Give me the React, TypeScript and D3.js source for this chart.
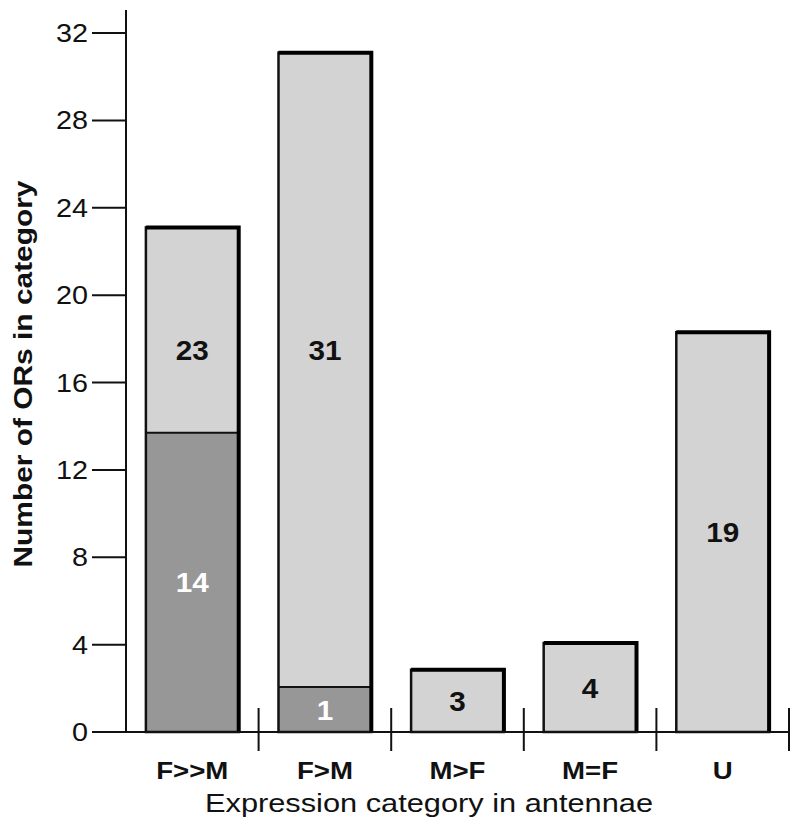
import React from 'react'
import * as d3 from 'd3'

// categories along the x axis
const categories = ['F>>M', 'F>M', 'M>F', 'M=F', 'U']
// bar heights (whole bar, light part on top)
const totalHeights = [23.1, 31.1, 2.85, 4.07, 18.3]
// dark lower part of the bar (0 = none)
const darkHeights = [13.7, 2.06, 0, 0, 0]
// numbers printed in the bars
const totalLabels = ['23', '31', '3', '4', '19']
const darkLabels = ['14', '1', '', '', '']
const yTicks = [0, 4, 8, 12, 16, 20, 24, 28, 32]

const W = 800
const H = 834
const font = '"Liberation Sans", Arial, sans-serif'
// the original figure is a bit stretched sideways
const sx = 1.15

const App = () => {
  const x = d3.scaleBand<string>().domain(categories).range([126, 789]).padding(0)
  const y = d3.scaleLinear().domain([0, 32]).range([732, 33])
  const barW = x.bandwidth() * 0.7

  const rows = categories.map((c, i) => ({
    c,
    total: totalHeights[i],
    dark: darkHeights[i],
    tLabel: totalLabels[i],
    dLabel: darkLabels[i],
  }))

  // labels in the light part of the stacked bars share one height
  const stacked = rows.filter((d) => d.dark > 0)
  const stackedLabelY = d3.mean(stacked, (d) => (y(d.total) + y(d.dark)) / 2) as number

  return (
    <svg width={W} height={H} style={{ display: 'block', margin: '-8px', background: '#fff' }}>
      {/* bars */}
      {rows.map((d) => {
        const x0 = (x(d.c) as number) + (x.bandwidth() - barW) / 2
        const cx = x0 + barW / 2
        const top = y(d.total)
        const darkTop = y(d.dark)
        const lightY = d.dark > 0 ? stackedLabelY : (top + y(0)) / 2
        return (
          <g key={d.c}>
            <rect x={x0} y={top} width={barW} height={y(0) - top} fill="#d3d3d3" />
            {d.dark > 0 && (
              <rect x={x0} y={darkTop} width={barW} height={y(0) - darkTop} fill="#979797" />
            )}
            {d.dark > 0 && (
              <line x1={x0} x2={x0 + barW} y1={darkTop} y2={darkTop} stroke="#111" strokeWidth={2} />
            )}
            <rect x={x0} y={top} width={barW} height={y(0) - top} fill="none" stroke="#111" strokeWidth={2.5} />
            {/* thicker top and right edges */}
            <path
              d={`M${x0},${top} H${x0 + barW} V${y(0)}`}
              fill="none"
              stroke="#000"
              strokeWidth={4}
            />
            <text
              transform={`translate(${cx},${lightY}) scale(1.06,1)`}
              dy="0.36em"
              textAnchor="middle"
              fontFamily={font}
              fontWeight="bold"
              fontSize={28}
              fill="#111"
            >
              {d.tLabel}
            </text>
            {d.dark > 0 && (
              <text
                transform={`translate(${cx},${(darkTop + y(0)) / 2}) scale(1.06,1)`}
                dy="0.36em"
                textAnchor="middle"
                fontFamily={font}
                fontWeight="bold"
                fontSize={28}
                fill="#fff"
              >
                {d.dLabel}
              </text>
            )}
          </g>
        )
      })}

      {/* y axis */}
      <line x1={126} x2={126} y1={y(33.05)} y2={y(0)} stroke="#111" strokeWidth={2} />
      {yTicks.map((t) => (
        <g key={t}>
          <line x1={92} x2={126} y1={y(t)} y2={y(t)} stroke="#111" strokeWidth={2} />
          <text
            transform={`translate(88,${y(t)}) scale(${sx},1)`}
            dy="0.36em"
            textAnchor="end"
            fontFamily={font}
            fontSize={25}
            fill="#111"
          >
            {t}
          </text>
        </g>
      ))}

      {/* x axis */}
      <line x1={92} x2={789} y1={y(0)} y2={y(0)} stroke="#111" strokeWidth={2} />
      {categories.map((c) => (
        <g key={c}>
          <line
            x1={(x(c) as number) + x.bandwidth()}
            x2={(x(c) as number) + x.bandwidth()}
            y1={708}
            y2={751}
            stroke="#111"
            strokeWidth={2}
          />
          <text
            transform={`translate(${(x(c) as number) + x.bandwidth() / 2},779) scale(${sx},1)`}
            textAnchor="middle"
            fontFamily={font}
            fontWeight="bold"
            fontSize={24}
            fill="#111"
          >
            {c}
          </text>
        </g>
      ))}

      {/* axis titles */}
      <text
        x={429}
        y={812}
        textAnchor="middle"
        fontFamily={font}
        fontSize={25}
        textLength={448}
        lengthAdjust="spacingAndGlyphs"
        fill="#111"
      >
        Expression category in antennae
      </text>
      <text
        transform="translate(32,374) rotate(-90)"
        textAnchor="middle"
        fontFamily={font}
        fontWeight="bold"
        fontSize={26}
        textLength={387}
        lengthAdjust="spacingAndGlyphs"
        fill="#111"
      >
        Number of ORs in category
      </text>
    </svg>
  )
}

export default App
